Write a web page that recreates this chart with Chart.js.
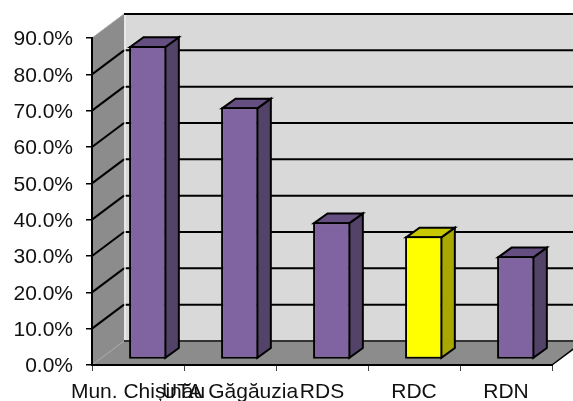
<!DOCTYPE html>
<html><head><meta charset="utf-8">
<style>html,body{margin:0;padding:0;background:#fff}canvas{display:block}</style>
<script src="https://cdn.jsdelivr.net/npm/chart.js@4"></script>
</head><body><canvas id="c" width="573" height="401"></canvas>
<script>
const categories = ["Mun. Chișinău", "UTA Găgăuzia", "RDS", "RDC", "RDN"];
const values = [86.3, 69.4, 37.8, 33.9, 28.4];
const frontColors = ["#8064a2", "#8064a2", "#8064a2", "#ffff00", "#8064a2"];
const sideColors = ["#544368", "#544368", "#544368", "#a8a800", "#544368"];
const topColors = ["#644f80", "#644f80", "#644f80", "#c8c800", "#644f80"];
const FONT = '"Liberation Sans", Arial, sans-serif';
const WALL = {dx: 32, dy: -24};
const BAR_OFFSET = {dx: 9.7, dy: -5.5};
const BAR_DEPTH = {dx: 13.5, dy: -9.7};

function poly(ctx, pts, fill, stroke, lw) {
  ctx.beginPath();
  pts.forEach((p, i) => i ? ctx.lineTo(p[0], p[1]) : ctx.moveTo(p[0], p[1]));
  ctx.closePath();
  if (fill) { ctx.fillStyle = fill; ctx.fill(); }
  if (stroke) { ctx.strokeStyle = stroke; ctx.lineWidth = lw; ctx.lineJoin = 'miter'; ctx.stroke(); }
}
function seg(ctx, x1, y1, x2, y2, color, lw) {
  ctx.beginPath(); ctx.moveTo(x1, y1); ctx.lineTo(x2, y2);
  ctx.strokeStyle = color; ctx.lineWidth = lw; ctx.stroke();
}

const walls = {
  id: 'walls',
  beforeDraw(chart) {
    const {ctx, chartArea: a, scales: {y}} = chart;
    const dx = WALL.dx, dy = WALL.dy;
    ctx.save();
    poly(ctx, [[a.left + dx, a.top + dy], [a.right + dx, a.top + dy], [a.right + dx, a.bottom + dy], [a.left + dx, a.bottom + dy]], '#d9d9d9');
    poly(ctx, [[a.left, a.top], [a.left + dx, a.top + dy], [a.left + dx, a.bottom + dy], [a.left, a.bottom]], '#8c8c8c');
    poly(ctx, [[a.left, a.bottom], [a.left + dx, a.bottom + dy], [a.right + dx, a.bottom + dy], [a.right, a.bottom]], '#8c8c8c');
    y.ticks.forEach(t => {
      const p = y.getPixelForValue(t.value);
      const edge = t.value === y.min || t.value === y.max;
      seg(ctx, a.left + dx, p + dy, a.right + dx, p + dy, t.value === y.min ? '#333' : '#000', 2);
      seg(ctx, a.left, p, a.left + dx, p + dy, edge ? '#a6a6a6' : '#000', edge ? 1 : 2);
    });
    seg(ctx, a.left + dx + 1, a.top + dy + 1, a.left + dx + 1, a.bottom + dy - 1, '#ececec', 1.5);
    seg(ctx, a.right, a.bottom, a.right + dx, a.bottom + dy, '#000', 1.5);
    ctx.restore();
  },
  beforeDatasetsDraw(chart) {
    const {ctx} = chart;
    const bars = chart.getDatasetMeta(0).data;
    ctx.save();
    ctx.translate(BAR_OFFSET.dx, BAR_OFFSET.dy);
    bars.forEach((b, i) => {
      const l = b.x - b.width / 2 + 1, r = b.x + b.width / 2 - 1, t = b.y + 1, bot = b.base - 1;
      const dx = BAR_DEPTH.dx, dy = BAR_DEPTH.dy;
      poly(ctx, [[r, t], [r + dx, t + dy], [r + dx, bot + dy], [r, bot]], sideColors[i], '#000', 2);
      poly(ctx, [[l, t], [l + dx, t + dy], [r + dx, t + dy], [r, t]], topColors[i], '#000', 2);
    });
    // remains translated so that the library draws the bar fronts at the mid-depth plane
  },
  afterDatasetsDraw(chart) { chart.ctx.restore(); }
};

new Chart(document.getElementById('c'), {
  type: 'bar',
  data: {labels: categories, datasets: [{
    data: values, backgroundColor: frontColors, borderColor: '#000', borderWidth: 2, borderSkipped: false,
    categoryPercentage: 1, barPercentage: 0.405
  }]},
  options: {
    responsive: false, animation: false,
    layout: {padding: {top: 38, right: 21, left: 0, bottom: 0}},
    plugins: {legend: {display: false}, title: {display: false}, tooltip: {enabled: false}},
    scales: {
      x: {
        afterFit(s) { s.height = 36; },
        grid: {drawOnChartArea: false, drawTicks: true, tickLength: 6, color: '#444', lineWidth: 1, offset: true},
        border: {color: '#000', width: 2},
        ticks: {autoSkip: false, maxRotation: 0, minRotation: 0, padding: 8.5, color: '#111', font: {family: FONT, size: 21}}
      },
      y: {
        min: 0, max: 90,
        afterFit(s) { s.width = 92; },
        grid: {drawOnChartArea: false, drawTicks: true, tickLength: 6, color: '#000', lineWidth: 1.5},
        border: {color: '#000', width: 2},
        ticks: {stepSize: 10, padding: 13, labelOffset: 1.5, color: '#111', font: {family: FONT, size: 21},
          callback: v => v.toFixed(1) + '%'}
      }
    }
  },
  plugins: [walls]
});
</script></body></html>
